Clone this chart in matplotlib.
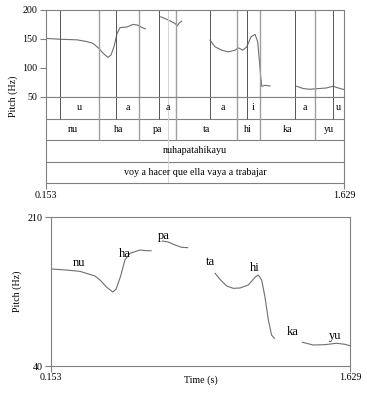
import matplotlib
matplotlib.use("Agg")
import matplotlib.pyplot as plt

plt.rcParams['font.family'] = ['Liberation Serif', 'DejaVu Serif']

t_start, t_end = 0.153, 1.629

# --- top panel: pitch track (Hz) in four voiced stretches ---
top_t1 = [0.153, 0.224, 0.308, 0.357, 0.387, 0.417, 0.437, 0.461, 0.476, 0.491, 0.506, 0.521, 0.555, 0.585, 0.610, 0.630, 0.646]
top_f1 = [150.5, 149, 148, 145, 142, 133, 125, 118, 122, 136, 159, 169, 170, 174.5, 173, 169, 167]
top_t2 = [0.722, 0.760, 0.793, 0.804, 0.814, 0.826]
top_f2 = [187.5, 182, 176, 172, 177, 180]
top_t3 = [0.966, 0.991, 1.024, 1.056, 1.090, 1.106, 1.128, 1.148, 1.169, 1.189, 1.202, 1.210, 1.217, 1.222, 1.238, 1.263]
top_f3 = [147.5, 136, 130.3, 127.4, 130.3, 134.3, 130.3, 136, 153.2, 157.3, 144.6, 113, 84.4, 68.4, 70, 69]
top_t4 = [1.395, 1.428, 1.461, 1.502, 1.543, 1.573, 1.601, 1.629]
top_f4 = [68.4, 64.4, 63.3, 64.4, 65.5, 68.4, 65.5, 62.7]

# tiers
vowels = ["u", "a", "a", "a", "i", "a", "u"]
vowel_start = [0.225, 0.502, 0.715, 0.964, 1.148, 1.385, 1.573]
vowel_end = [0.417, 0.616, 0.796, 1.098, 1.212, 1.484, 1.629]
syllables = ["nu", "ha", "pa", "ta", "hi", "ka", "yu"]
syl_bounds = [0.153, 0.417, 0.616, 0.796, 1.098, 1.212, 1.484, 1.629]
word = "nuhapatahikayu"
gloss = "voy a hacer que ella vaya a trabajar"
cursor_t = 0.757

# --- bottom panel: pitch track ---
bot_t1 = [0.156, 0.231, 0.296, 0.370, 0.395, 0.428, 0.458, 0.474, 0.497, 0.518, 0.543, 0.592, 0.625, 0.647]
bot_f1 = [150.9, 149.7, 148.2, 142.9, 138.3, 130, 124.6, 127.7, 142.9, 161.2, 168.8, 172.6, 171.8, 171.8]
bot_t2 = [0.702, 0.732, 0.765, 0.798, 0.828]
bot_f2 = [182.9, 181.8, 178.3, 175.7, 175.3]
bot_t3 = [0.963, 0.987, 1.020, 1.053, 1.086, 1.127, 1.160, 1.176, 1.193, 1.209, 1.226, 1.242, 1.255]
bot_f3 = [146, 139.1, 131.5, 128.8, 129.2, 132.6, 141.4, 144, 138.3, 119.2, 92.6, 75.4, 71.7]
bot_t4 = [1.394, 1.448, 1.506, 1.563, 1.604, 1.629]
bot_f4 = [67.1, 64, 64.4, 66, 64.8, 63.2]
syl_label_t = [0.293, 0.518, 0.711, 0.938, 1.160, 1.346, 1.555]
syl_label_f = [157.4, 167.6, 188.9, 159.2, 152.4, 79.2, 74.3]

frame = '#808080'
curve = '#6e6e6e'
dark = '#555555'
light = '#a0a0a0'
fs = 7.2

fig = plt.figure(figsize=(3.67, 3.95), dpi=100)
W, H = 367.0, 395.0

def box(l, t, r, b):
    return [l / W, 1 - b / H, (r - l) / W, (b - t) / H]

ax_p = fig.add_axes(box(45.7, 9.5, 344, 97))
ax_t = fig.add_axes(box(45.7, 97, 344, 183), sharex=ax_p)
ax_b = fig.add_axes(box(51, 217.3, 350, 366))

for ax in (ax_p, ax_t, ax_b):
    for s in ax.spines.values():
        s.set_color(frame)
        s.set_linewidth(0.8)
    ax.tick_params(direction='out', length=4, width=0.8, color=frame, labelsize=fs, pad=2)

# pitch area of top panel
for tt, ff in [(top_t1, top_f1), (top_t2, top_f2), (top_t3, top_f3), (top_t4, top_f4)]:
    ax_p.plot(tt, ff, color=curve, lw=0.8)
ax_p.set_xlim(t_start, t_end)
ax_p.set_ylim(50, 200)
ax_p.set_yticks([50, 100, 150, 200])
ax_p.tick_params(axis='x', bottom=False, labelbottom=False)
for x in vowel_start:
    ax_p.axvline(x, color=dark, lw=0.7)
for x in syl_bounds[1:-1]:
    ax_p.axvline(x, color=light, lw=1.0)
ax_p.axvline(cursor_t, color='#d4d4d4', lw=0.7)

# tier rows
ax_t.set_ylim(0, 4)
ax_t.set_yticks([])
for y in [1, 2, 3]:
    ax_t.axhline(y, color=frame, lw=0.8)
ax_t.vlines(vowel_start, 3, 4, color=dark, lw=0.7)
ax_t.vlines(syl_bounds[1:-1], 2, 4, color=light, lw=1.0)
ax_t.axvline(cursor_t, color='#d4d4d4', lw=0.7)
for lab, a, b in zip(vowels, vowel_start, vowel_end):
    ax_t.text((a + b) / 2, 3.5, lab, ha='center', va='center', fontsize=fs)
for i, lab in enumerate(syllables):
    ax_t.text((syl_bounds[i] + syl_bounds[i + 1]) / 2, 2.5, lab, ha='center', va='center', fontsize=fs)
ax_t.text((t_start + t_end) / 2, 1.5, word, ha='center', va='center', fontsize=fs)
ax_t.text((t_start + t_end) / 2, 0.5, gloss, ha='center', va='center', fontsize=fs)
ax_t.set_xticks([t_start, t_end])
ax_t.set_xticklabels(['0.153', '1.629'])

fig.text(12.7 / W, 1 - 96 / H, 'Pitch (Hz)', rotation=90, ha='center', va='center', fontsize=fs)

# bottom panel
for tt, ff in [(bot_t1, bot_f1), (bot_t2, bot_f2), (bot_t3, bot_f3), (bot_t4, bot_f4)]:
    ax_b.plot(tt, ff, color=curve, lw=0.8)
for lab, x, y in zip(syllables, syl_label_t, syl_label_f):
    ax_b.text(x, y, lab, ha='center', va='center', fontsize=9)
ax_b.set_xlim(t_start, t_end)
ax_b.set_ylim(40, 210)
ax_b.set_yticks([40, 210])
ax_b.set_xticks([t_start, t_end])
ax_b.set_xticklabels(['0.153', '1.629'])
ax_b.tick_params(axis='x', pad=1)

fig.text(17 / W, 1 - 291.7 / H, 'Pitch (Hz)', rotation=90, ha='center', va='center', fontsize=fs)
fig.text(200.5 / W, 1 - 380 / H, 'Time (s)', ha='center', va='center', fontsize=fs)

fig.savefig('out.png', dpi=100)
